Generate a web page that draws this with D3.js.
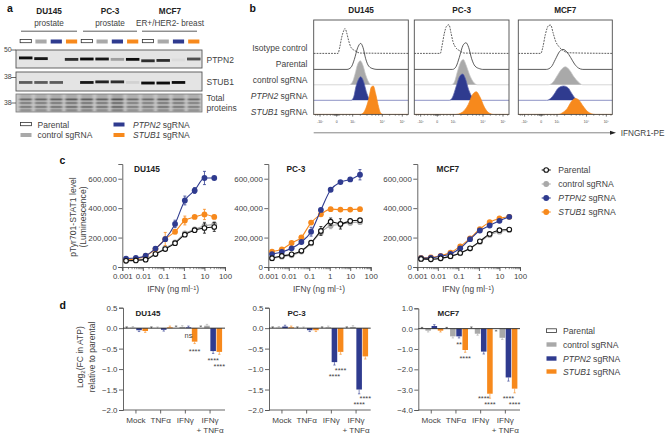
<!DOCTYPE html>
<html><head><meta charset="utf-8">
<script src="https://cdn.jsdelivr.net/npm/d3@7"></script>
<style>
html,body{margin:0;padding:0;background:#fff}
svg{display:block}
text{font-family:"Liberation Sans",Arial,sans-serif;fill:#3f3f3f}
</style></head><body>
<svg id="c" width="669" height="439"></svg>
<script>
// ---------- shared ----------
const cellLines = ["DU145","PC-3","MCF7"];
const groupNames = ["Parental","control sgRNA","PTPN2 sgRNA","STUB1 sgRNA"];
const groupColors = ["#111111","#a9a9a9","#2f3b8f","#f7891c"];

// ---------- panel a ----------
const blotTissue = ["prostate","prostate","ER+/HER2- breast"];
const ptpn2Band = [1,.95,0,.85, 1,.95,.3,1, .85,.85,.04,.7];
const stub1Band = [.6,.6,.6,0, .95,.9,.85,.08, 1,1,1,0];
const ptpn2Pos = [.44,.48,.5,.52, .5,.5,.52,.52, .6,.58,.55,.5];
const stub1Pos = [.55,.55,.55,.55, .55,.52,.52,.55, .58,.58,.55,.55];
const totalBands = [[.3,.7],[.5,.45],[.72,.5],[.9,.3]];
const laneLoad = [.8,.8,.85,.9, .9,.85,1,.75, .75,.85,.8,.75];

// ---------- panel b: histograms [channel, height] ----------
const histRows = ["Isotype control","Parental","control sgRNA","PTPN2 sgRNA","STUB1 sgRNA"];
const histTicks = [[19,"-10²"],[69,"0"],[117,"10³"],[206,"10⁴"],[266,"10⁵"]];
const histMinor = [6,12,19,30,40,50,58,62,64,66,68,70,72,74,78,88,98,108,117,140,160,175,186,195,206,228,245,256,266,280];
const du145Hist = [
 [[0,0],[73,0],[78,18],[84,48],[90,68],[94,75],[99,62],[105,38],[112,18],[124,8],[140,1],[284,0]],
 [[0,0],[100,0],[112,6],[122,30],[132,65],[141,78],[148,66],[156,32],[165,10],[178,2],[190,0],[284,0]],
 [[0,0],[105,0],[116,8],[124,32],[132,62],[140,72],[148,58],[156,30],[165,8],[175,0],[284,0]],
 [[0,0],[112,0],[120,10],[127,42],[134,62],[141,71],[150,56],[158,26],[166,6],[172,0],[284,0]],
 [[0,0],[140,0],[150,6],[158,22],[166,50],[173,82],[179,85],[186,62],[193,30],[200,6],[208,0],[284,0]]];
const pc3Hist = [
 [[0,0],[78,0],[83,22],[90,60],[97,82],[104,86],[110,62],[116,35],[124,18],[136,8],[150,1],[284,0]],
 [[0,0],[115,0],[125,8],[135,36],[146,72],[155,80],[163,66],[172,32],[182,10],[196,2],[205,0],[284,0]],
 [[0,0],[110,0],[120,8],[130,42],[140,70],[147,76],[155,60],[165,32],[176,10],[190,0],[284,0]],
 [[0,0],[105,0],[115,10],[125,40],[136,72],[145,79],[153,66],[163,32],[175,8],[189,0],[284,0]],
 [[0,0],[125,0],[140,4],[150,12],[162,30],[175,60],[186,68],[197,52],[210,22],[222,6],[238,0],[284,0]]];
const mcf7Hist = [
 [[0,0],[68,0],[74,18],[82,58],[92,84],[98,85],[105,62],[113,36],[123,20],[135,9],[150,2],[284,0]],
 [[0,0],[85,0],[100,8],[112,30],[125,54],[135,60],[147,52],[158,36],[170,16],[182,4],[195,0],[284,0]],
 [[0,0],[90,0],[105,8],[118,28],[130,46],[142,54],[155,44],[168,24],[182,8],[195,0],[284,0]],
 [[0,0],[85,0],[98,6],[108,18],[120,36],[137,43],[150,38],[162,20],[172,6],[180,0],[284,0]],
 [[0,0],[120,0],[135,6],[148,18],[160,38],[172,48],[182,44],[195,26],[210,8],[232,0],[284,0]]];

// ---------- panel c ----------
const doses = [0.00152,0.00457,0.0137,0.0412,0.123,0.37,1.11,3.33,10,30];
const xTickLabels = [0.001,0.01,0.1,1,10,100];
const yTicksC = [0,200000,400000,600000];
const du145Parental = [42,45,50,88,122,162,220,250,265,272];
const du145Control  = [45,48,55,90,128,168,228,255,280,290];
const du145Ptpn2    = [57,61,77,125,189,293,452,520,605,605];
const du145Stub1    = [50,55,75,122,190,240,316,340,357,340];
const pc3Parental = [60,75,86,110,165,245,308,293,313,318];
const pc3Control  = [58,70,80,105,160,235,280,290,300,305];
const pc3Ptpn2    = [88,102,127,170,240,388,525,577,595,627];
const pc3Stub1    = [105,120,163,202,302,358,393,390,390,393];
const mcf7Parental = [55,52,59,73,95,127,175,225,250,255];
const mcf7Control  = [55,52,58,72,93,125,170,218,240,252];
const mcf7Ptpn2    = [60,62,73,89,127,189,248,282,314,341];
const mcf7Stub1    = [62,65,76,98,140,195,258,305,330,341];
const du145Err = [[5,5,5,8,8,10,10,12,35,30],[5,5,5,8,8,10,12,12,25,20],[8,8,8,12,15,25,30,20,45,10],[5,5,5,12,45,15,30,8,35,12]];
const pc3Err   = [[12,10,8,8,10,30,25,35,10,8],[8,8,8,8,12,15,20,20,15,15],[8,8,10,10,30,10,10,5,10,35],[5,5,10,5,10,8,8,5,5,5]];
const mcf7Err  = [[6,6,5,5,5,5,6,8,8,8],[6,6,5,5,5,5,6,8,8,8],[5,5,5,5,5,8,8,10,10,8],[5,5,5,5,5,8,8,10,10,8]];

// ---------- panel d ----------
const treatments = ["Mock","TNFα","IFNγ","IFNγ\n+ TNFα"];
const du145Atp = [[0,.01,-.05,-.07],[0,0,-.04,.02],[.02,.03,.02,-.33],[.02,.06,-.56,-.58]];
const pc3Atp   = [[0,.01,.04,.02],[0,0,-.05,-.05],[0,.02,-.83,-.58],[0,.03,-1.5,-.69]];
const mcf7Atp  = [[0,-.1,.13,-.1],[0,-.38,-.38,-1.05],[.02,-.25,-1.13,-3.2],[-.05,-.45,-2.4,-2.95]];
const du145Sig = [[2,2,"ns",-.17],[2,3,"****",-.54],[3,2,"****",-.77],[3,3,"****",-.9]];
const pc3Sig   = [[2,3,"****",-1.0],[2,2,"****",-1.15],[3,3,"****",-1.68],[3,2,"****",-1.84]];
const mcf7Sig  = [[1,2,"**",-.72],[1,3,"****",-1.39],[2,2,"****",-3.36],[2,3,"****",-3.69],[3,2,"****",-3.36],[3,3,"****",-3.69]];
const yTicksDu = [.5,0,-.5,-1,-1.5,-2];
const yTicksMcf = [1,0,-1,-2,-3,-4];

// ---------- drawing ----------
const svg = d3.select("#c");
const AX="#555", FS=8.5, TICK=7.9;
const defs = svg.append("defs");
defs.append("filter").attr("id","b1").attr("x","-20%").attr("y","-100%").attr("width","140%").attr("height","300%")
  .append("feGaussianBlur").attr("stdDeviation","0.7 0.45");
defs.append("filter").attr("id","b2").attr("x","-10%").attr("y","-40%").attr("width","120%").attr("height","180%")
  .append("feGaussianBlur").attr("stdDeviation","0.9 0.6");

function T(x,y,s,o={}){
  const t=svg.append("text").attr("x",x).attr("y",y).attr("font-size",o.fs||FS)
   .attr("text-anchor",o.a||"start").attr("font-weight",o.b?"bold":null).text(s);
  if(o.fill)t.style("fill",o.fill);
  if(o.rot!=null)t.attr("transform",`rotate(${o.rot} ${x} ${y})`);
  return t;
}
// sgRNA label with italic gene
function G(x,y,s,o={}){
  const t=T(x,y,"",o); const p=s.split(" ");
  if(p[0]==="PTPN2"||p[0]==="STUB1"){t.append("tspan").attr("font-style","italic").text(p[0]);t.append("tspan").text(" "+p[1]);}
  else t.text(s);
  return t;
}
[["a",7,12],["b",249.5,12],["c",59.5,164],["d",59.5,309]].forEach(d=>T(d[1],d[2],d[0],{b:1,fs:10.5,fill:"#111"}));

// ---- a ----
const lane = d3.scaleBand().domain(d3.range(12)).range([19,200.5]).paddingInner(.12);
const chipW = lane.bandwidth();
[[49,21,77],[110,83,137],[170,142,197]].forEach((h,i)=>{
  T(h[0],14,cellLines[i],{b:1,a:"middle",fs:8.2,fill:"#222"});
  T(h[0],25.8,blotTissue[i],{a:"middle",fs:8.2});
  svg.append("line").attr("x1",h[1]).attr("x2",h[2]).attr("y1",31.2).attr("y2",31.2).attr("stroke","#333").attr("stroke-width",.8);
});
function chip(x,y,w,h,i){
  svg.append("rect").attr("x",x).attr("y",y).attr("width",w).attr("height",h)
   .attr("fill",i===0?"#fff":groupColors[i]).attr("stroke",i===0?"#333":"none").attr("stroke-width",.8);
}
lane.domain().forEach(l=>chip(lane(l)+chipW/2-5.6,39.5,11.2,l%4==0?3.2:4,l%4));
function blot(y0,h,band,pos){
  svg.append("rect").attr("x",16).attr("y",y0).attr("width",186).attr("height",h).attr("fill","#e4e4e4").attr("stroke","#555").attr("stroke-width",.9);
  const g=svg.append("g").attr("filter","url(#b1)");
  const ys=d3.scaleLinear().domain([0,1]).range([y0,y0+h]);
  g.selectAll("rect").data(band).join("rect")
   .attr("x",(d,i)=>lane(i)).attr("width",chipW).attr("y",(d,i)=>ys(pos[i])-1.4).attr("height",2.8)
   .attr("fill","#0a0a0a").attr("opacity",d=>d);
}
blot(50,18,ptpn2Band,ptpn2Pos);
blot(72,19,stub1Band,stub1Pos);
(function(){
  const y0=94,h=18;
  svg.append("rect").attr("x",16).attr("y",y0).attr("width",186).attr("height",h).attr("fill","#c6c6c6");
  const g=svg.append("g").attr("filter","url(#b2)");
  const ys=d3.scaleLinear().domain([0,1]).range([y0,y0+h]);
  laneLoad.forEach((v,i)=>{
    g.append("rect").attr("x",lane(i)+1).attr("width",chipW-2).attr("y",y0).attr("height",h).attr("fill","#8c8c8c").attr("opacity",v*.5);
    totalBands.forEach(b=>g.append("rect").attr("x",lane(i)+.5).attr("width",chipW-1).attr("y",ys(b[0])-.9).attr("height",1.8).attr("fill","#333").attr("opacity",b[1]*v));
  });
  svg.append("rect").attr("x",16).attr("y",y0).attr("width",186).attr("height",h).attr("fill","none").attr("stroke","#777").attr("stroke-width",.8);
})();
[[50,"50"],[77.5,"38"],[103,"38"]].forEach(d=>{
  T(11.5,d[0]+1.5,d[1],{a:"end",fs:6.8});
  svg.append("line").attr("x1",11).attr("x2",16).attr("y1",d[0]).attr("y2",d[0]).attr("stroke","#444").attr("stroke-width",.8);
});
T(206.5,63,"PTPN2");T(206.5,85,"STUB1");T(206.5,100.5,"Total");T(206.5,111,"proteins");
[[20.5,37.5,124.5,0],[20.5,37.5,135,1],[113.5,133,124.5,2],[113.5,133,135,3]].forEach(d=>{
  chip(d[0],d[2]-2,11,d[3]==0?3.2:4,d[3]);
  G(d[1],d[2]+3,groupNames[d[3]]);
});

// ---- b ----
const rowBase=[53.4,69.4,84.8,100.3,114.4];
const rowStroke=["#333","#333","#c4c4c4","#5d66ad","#f7891c"];
const rowFill=[null,null,"#a9a9a9","#2f3b8f","#f7891c"];
const yH=d3.scaleLinear().domain([0,100]).range([0,-33.3]);
[[313.7,408.3,du145Hist],[414.3,509,pc3Hist],[518.3,612.3,mcf7Hist]].forEach((f,fi)=>{
  const x=d3.scaleLinear().domain([0,284]).range([f[0],f[1]]);
  T((f[0]+f[1])/2,12.5,cellLines[fi],{b:1,a:"middle",fs:8.2,fill:"#222"});
  svg.append("rect").attr("x",f[0]).attr("y",20).attr("width",f[1]-f[0]).attr("height",94.4).attr("fill","#fff");
  f[2].forEach((c,r)=>{
    const base=rowBase[r];
    if(rowFill[r]){
      const a=d3.area().x(d=>x(d[0])).y0(base).y1(d=>base+yH(d[1])).curve(d3.curveMonotoneX);
      svg.append("path").attr("d",a(c)).attr("fill",rowFill[r]);
    }
    const l=d3.line().x(d=>x(d[0])).y(d=>base+yH(d[1])).curve(d3.curveMonotoneX);
    svg.append("path").attr("d",l(c)).attr("fill","none").attr("stroke",rowStroke[r])
      .attr("stroke-width",rowFill[r]?.7:.8).attr("stroke-dasharray",r==0?"1.8 1.1":null);
  });
  svg.append("rect").attr("x",f[0]).attr("y",20).attr("width",f[1]-f[0]).attr("height",94.4).attr("fill","none").attr("stroke","#4d4d4d").attr("stroke-width",.9);
  svg.selectAll(null).data(histMinor).join("line").attr("x1",d=>x(d)).attr("x2",d=>x(d)).attr("y1",114.4).attr("y2",116).attr("stroke","#333").attr("stroke-width",.4);
  histTicks.forEach(t=>{
    svg.append("line").attr("x1",x(t[0])).attr("x2",x(t[0])).attr("y1",114.4).attr("y2",117).attr("stroke","#333").attr("stroke-width",.4);
    T(x(t[0]),123.3,t[1],{a:"middle",fs:3.4});
  });
});
histRows.forEach((r,i)=>G(307.5,[50.5,66.8,83,99,115][i],r,{a:"end"}));
svg.append("line").attr("x1",313.7).attr("x2",612).attr("y1",132.8).attr("y2",132.8).attr("stroke","#777").attr("stroke-width",.9);
svg.append("path").attr("d","M616,132.8 L610,130.8 L610,134.8 Z").attr("fill","#222");
T(620.7,136,"IFNGR1-PE",{fs:8.2});

// ---- c ----
const cPanels=[
 {n:0,x0:122.3,x1:225,s:[du145Parental,du145Control,du145Ptpn2,du145Stub1],e:du145Err,tx:134},
 {n:1,x0:268.3,x1:370.7,s:[pc3Parental,pc3Control,pc3Ptpn2,pc3Stub1],e:pc3Err,tx:286.5},
 {n:2,x0:417.3,x1:520,s:[mcf7Parental,mcf7Control,mcf7Ptpn2,mcf7Stub1],e:mcf7Err,tx:436.5}];
const drawOrder=[1,3,2,0];
const fmt=d3.format(",");
cPanels.forEach(p=>{
  const x=d3.scaleLog().domain([.001,100]).range([p.x0,p.x1]);
  const y=d3.scaleLinear().domain([0,700000]).range([267,164]);
  const ax=svg.append("g").attr("transform","translate(0,267)");
  ax.call(d3.axisBottom(x).tickValues(xTickLabels).tickFormat(d=>String(d)).tickSize(4).tickPadding(2));
  ax.selectAll("text").attr("font-size",TICK);
  ax.selectAll(null).data(x.ticks()).join("line").attr("x1",d=>x(d)).attr("x2",d=>x(d)).attr("y1",0).attr("y2",2.2).attr("stroke",AX).attr("stroke-width",.7);
  const ay=svg.append("g").attr("transform",`translate(${p.x0},0)`);
  ay.call(d3.axisLeft(y).tickValues(yTicksC).tickFormat(fmt).tickSize(4).tickPadding(1.5));
  ay.selectAll("text").attr("font-size",TICK);
  svg.selectAll("g .domain").attr("stroke",AX).attr("stroke-width",.9);
  svg.selectAll("g .tick line").attr("stroke",AX).attr("stroke-width",.9);
  T(p.tx,172,cellLines[p.n],{b:1,fs:8.3,fill:"#222"});
  T((p.x0+p.x1)/2-.5,292,"",{a:"middle",fs:8.3}).html('IFNγ (ng ml<tspan dy="-2.5" font-size="5.5">−1</tspan><tspan dy="2.5">)</tspan>');
  drawOrder.forEach(k=>{
    const v=p.s[k].map(d=>d*1000), g=svg.append("g"), c=groupColors[k];
    const pts=doses.map((d,i)=>[d,v[i],p.e[k][i]*1000]);
    g.append("path").attr("d",d3.line().x(d=>x(d[0])).y(d=>y(d[1])).curve(d3.curveMonotoneX)(pts))
      .attr("fill","none").attr("stroke",c).attr("stroke-width",1.1);
    pts.forEach(d=>{
      const px=x(d[0]);
      g.append("path").attr("d",`M${px-1.5},${y(d[1]+d[2])}H${px+1.5}M${px},${y(d[1]+d[2])}V${y(d[1]-d[2])}M${px-1.5},${y(d[1]-d[2])}H${px+1.5}`)
       .attr("stroke",c).attr("stroke-width",.8).attr("fill","none");
      g.append("circle").attr("cx",px).attr("cy",y(d[1])).attr("r",k==0?2.3:2.9)
       .attr("fill",k==0?"#fff":c).attr("stroke",k==0?"#111":"none").attr("stroke-width",1.1);
    });
  });
});
T(76,217,"pTyr701-STAT1 level",{a:"middle",fs:8.6,rot:-90});
T(86,217,"(Luminescence)",{a:"middle",fs:8.6,rot:-90});
groupNames.forEach((n,k)=>{
  const yy=170+14*k;
  svg.append("line").attr("x1",541.7).attr("x2",550.7).attr("y1",yy).attr("y2",yy).attr("stroke",groupColors[k]).attr("stroke-width",1.1);
  svg.append("circle").attr("cx",546.2).attr("cy",yy).attr("r",k==0?2.3:2.9).attr("fill",k==0?"#fff":groupColors[k]).attr("stroke",k==0?"#111":"none").attr("stroke-width",1.1);
  G(558.3,yy+3,n,{fs:8.6});
});

// ---- d ----
const dPanels=[
 {n:0,x0:123,x1:225,dom:[-2,.5],t:yTicksDu,v:du145Atp,sig:du145Sig,f:d3.format(".1f"),tx:135.5},
 {n:1,x0:269,x1:370.7,dom:[-2,.5],t:yTicksDu,v:pc3Atp,sig:pc3Sig,f:d3.format(".1f"),tx:287.5},
 {n:2,x0:418.3,x1:520,dom:[-4,1],t:yTicksMcf,v:mcf7Atp,sig:mcf7Sig,f:d3.format(".1f"),tx:437.5}];
dPanels.forEach(p=>{
  const y=d3.scaleLinear().domain(p.dom).range([410,p.n==2?308.3:307.7]);
  const x0=d3.scaleBand().domain(treatments).range([p.x0+.6,p.x0+99.4]);
  const x1=d3.scaleBand().domain(d3.range(4)).range([0,x0.bandwidth()]).paddingInner(.1).paddingOuter(.05);
  const ay=svg.append("g").attr("transform",`translate(${p.x0},0)`);
  ay.call(d3.axisLeft(y).tickValues(p.t).tickFormat(d=>p.f(d)).tickSize(4).tickPadding(1.5));
  ay.selectAll("text").attr("font-size",TICK);
  ay.select(".domain").attr("stroke",AX).attr("stroke-width",.9);
  ay.selectAll(".tick line").attr("stroke",AX).attr("stroke-width",.9);
  // bottom axis
  const ab=svg.append("g").attr("transform","translate(0,410)");
  ab.call(d3.axisBottom(x0).tickSize(3.5).tickSizeOuter(0).tickFormat(""));
  ab.select(".domain").attr("stroke",AX).attr("stroke-width",.9).attr("d",`M${p.x0},0H${p.x1}`);
  ab.selectAll(".tick line").attr("stroke",AX).attr("stroke-width",.9);
  treatments.forEach(t=>{
    t.split("\n").forEach((s,i)=>T(x0(t)+x0.bandwidth()/2,423+i*9.7,s,{a:"middle",fs:8.1}));
  });
  p.v.forEach((row,ci)=>{
    const t=treatments[ci];
    row.forEach((val,k)=>{
      const bx=x0(t)+x1(k), w=x1.bandwidth();
      const errH=Math.abs(val)*.05+.012*(p.dom[1]-p.dom[0]);
      const ey=val<0?val-errH:val+errH;
      svg.append("line").attr("x1",bx+w/2).attr("x2",bx+w/2).attr("y1",y(val)).attr("y2",y(ey)).attr("stroke",k==0?"#222":groupColors[k]).attr("stroke-width",.6);
      svg.append("line").attr("x1",bx+w/2-1.2).attr("x2",bx+w/2+1.2).attr("y1",y(ey)).attr("y2",y(ey)).attr("stroke",k==0?"#222":groupColors[k]).attr("stroke-width",.6);
      svg.append("rect").attr("x",bx).attr("width",w).attr("y",Math.min(y(val),y(0))).attr("height",Math.abs(y(val)-y(0)))
        .attr("fill",k==0?"#fff":groupColors[k]);
    });
  });
  svg.append("line").attr("x1",p.x0).attr("x2",p.x1).attr("y1",y(0)).attr("y2",y(0)).attr("stroke","#222").attr("stroke-width",.9);
  p.sig.forEach(s=>{
    const t=treatments[s[0]], bx=x0(t)+x1(s[1])+x1.bandwidth()/2;
    T(bx,y(s[3])+(s[2]==="ns"?2.5:3.6),s[2],{a:"middle",fs:7.4});
  });
  T(p.tx,315.5,cellLines[p.n],{b:1,fs:8,fill:"#222"});
});
const lg=T(83,357,"",{a:"middle",fs:8.6,rot:-90});
lg.html('Log<tspan font-size="6" dy="1.5">2</tspan><tspan dy="-1.5">(FC in ATP)</tspan>');
T(95,357,"relative to parental",{a:"middle",fs:8.6,rot:-90});
groupNames.forEach((n,k)=>{
  const yy=[331,344.5,358.5,371.5][k];
  chip(546.5,yy-2.2,10,k==0?3.6:4.4,k);
  G(563,yy+3,n,{fs:8.6});
});
</script>
</body></html>
